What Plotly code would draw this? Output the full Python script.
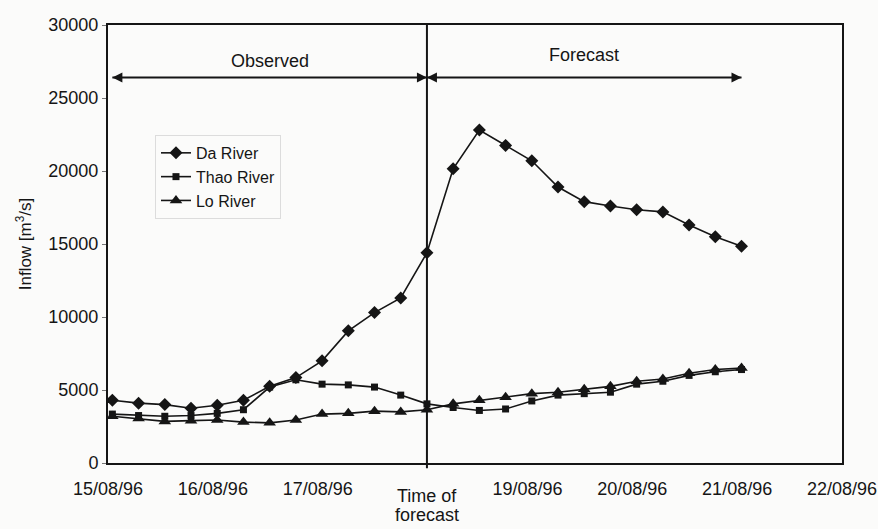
import plotly.graph_objects as go

# 6-hourly observation / forecast times (01, 07, 13, 19 h)
times = [
    "1996-08-15 01:00", "1996-08-15 07:00", "1996-08-15 13:00", "1996-08-15 19:00",
    "1996-08-16 01:00", "1996-08-16 07:00", "1996-08-16 13:00", "1996-08-16 19:00",
    "1996-08-17 01:00", "1996-08-17 07:00", "1996-08-17 13:00", "1996-08-17 19:00",
    "1996-08-18 01:00", "1996-08-18 07:00", "1996-08-18 13:00", "1996-08-18 19:00",
    "1996-08-19 01:00", "1996-08-19 07:00", "1996-08-19 13:00", "1996-08-19 19:00",
    "1996-08-20 01:00", "1996-08-20 07:00", "1996-08-20 13:00", "1996-08-20 19:00",
    "1996-08-21 01:00",
]

# Inflow [m3/s]
da_river = [4300, 4100, 4000, 3750, 3950, 4300, 5250, 5850, 7000, 9050, 10300, 11300,
            14400, 20150, 22800, 21750, 20700, 18900, 17900, 17600, 17350, 17200,
            16300, 15500, 14850]
thao_river = [3350, 3250, 3200, 3250, 3400, 3650, 5200, 5700, 5400, 5350, 5200, 4650,
              4050, 3800, 3600, 3700, 4250, 4650, 4750, 4850, 5400, 5600, 6000, 6250, 6400]
lo_river = [3200, 3050, 2850, 2900, 2950, 2800, 2750, 2950, 3350, 3400, 3550, 3500,
            3650, 4050, 4300, 4500, 4750, 4850, 5050, 5250, 5600, 5750, 6150, 6400, 6500]

forecast_time = "1996-08-18 01:00"
first_time = times[0]
last_time = times[-1]

x_tick_vals = ["1996-08-15", "1996-08-16", "1996-08-17",
               "1996-08-19", "1996-08-20", "1996-08-21", "1996-08-22"]
x_tick_text = ["15/08/96", "16/08/96", "17/08/96",
               "19/08/96", "20/08/96", "21/08/96", "22/08/96"]
y_tick_vals = [0, 5000, 10000, 15000, 20000, 25000, 30000]

FONT = "Arial, Liberation Sans, sans-serif"
INK = "#151515"

fig = go.Figure()
series = [
    ("Da River", da_river, "diamond", 10),
    ("Thao River", thao_river, "square", 7),
    ("Lo River", lo_river, "triangle-up", 11),
]
for name, vals, sym, size in series:
    fig.add_trace(go.Scatter(
        x=times, y=vals, name=name, mode="lines+markers",
        line=dict(color=INK, width=1.6),
        marker=dict(symbol=sym, size=size, color=INK, line=dict(width=0)),
    ))

# Observed / forecast double-headed arrows
arrow_y = 26400
for x0, x1 in [(first_time, forecast_time), (forecast_time, last_time)]:
    fig.add_trace(go.Scatter(
        x=[x0, x1], y=[arrow_y, arrow_y], mode="lines+markers",
        line=dict(color=INK, width=2),
        marker=dict(symbol=["arrow-left", "arrow-right"], size=10, color=INK,
                    line=dict(width=0)),
        showlegend=False, hoverinfo="skip",
    ))
fig.add_annotation(x="1996-08-16 13:00", y=27550, text="Observed", showarrow=False,
                   font=dict(family=FONT, size=18, color=INK))
fig.add_annotation(x="1996-08-19 13:00", y=27950, text="Forecast", showarrow=False,
                   font=dict(family=FONT, size=18, color=INK))

# Time of forecast marker and its two-line label
fig.add_shape(type="line", xref="x", yref="paper", x0=forecast_time, x1=forecast_time,
              y0=-0.012, y1=1, line=dict(color=INK, width=2))
for line_text, shift in [("Time of", -33), ("forecast", -52)]:
    fig.add_annotation(x=forecast_time, y=0, yref="paper", yanchor="middle",
                       yshift=shift, text=line_text, showarrow=False,
                       font=dict(family=FONT, size=18, color=INK))

fig.update_layout(
    template="none",
    width=878, height=529,
    margin=dict(l=108, r=36, t=25, b=66),
    paper_bgcolor="#fbfbfa", plot_bgcolor="#fbfbfa",
    font=dict(family=FONT, size=18, color=INK),
    showlegend=True,
    legend=dict(
        x=0.064, y=0.749, xanchor="left", yanchor="top",
        bgcolor="rgba(0,0,0,0)", bordercolor="#dcdcdc", borderwidth=1,
        font=dict(family=FONT, size=16, color=INK),
        tracegroupgap=0,
    ),
    xaxis=dict(
        type="date", range=["1996-08-15 00:00", "1996-08-22 00:00"],
        tickvals=x_tick_vals, ticktext=x_tick_text, ticks="",
        showgrid=False, zeroline=False,
        showline=True, mirror=True, linecolor=INK, linewidth=2,
        tickfont=dict(family=FONT, size=18, color=INK),
        ticklabelstandoff=8,
    ),
    yaxis=dict(
        range=[0, 30000], tickvals=y_tick_vals, tickformat="d",
        ticks="outside", ticklen=4, tickcolor="#777", tickwidth=1,
        showgrid=False, zeroline=False,
        showline=True, mirror=True, linecolor=INK, linewidth=2,
        tickfont=dict(family=FONT, size=18, color=INK),
        title=dict(text="Inflow [m<sup>3</sup>/s]", standoff=12,
                   font=dict(family=FONT, size=17, color=INK)),
    ),
)

fig.write_html("out.html")
